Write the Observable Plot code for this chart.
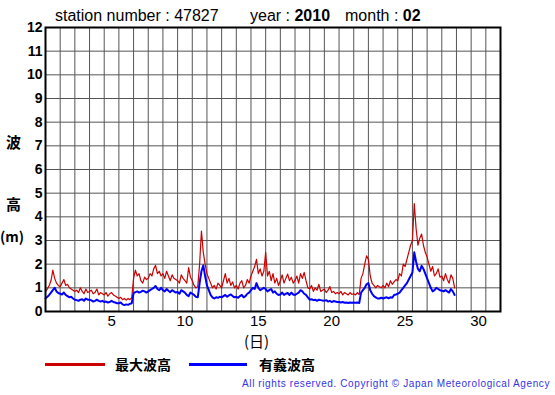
<!DOCTYPE html>
<html>
<head>
<meta charset="utf-8">
<script src="https://cdn.jsdelivr.net/npm/d3@7"></script>
<script src="https://cdn.jsdelivr.net/npm/@observablehq/plot@0.6"></script>
<style>
  html, body { margin: 0; padding: 0; background: #fff; }
  #wrap { position: relative; width: 555px; height: 395px; overflow: hidden; font-family: "Liberation Sans", Arial, sans-serif; }
  #chart { position: absolute; left: 0; top: 0; }
  .abs { position: absolute; white-space: nowrap; line-height: 18px; }
  .ttl { font-size: 16px; color: #000; }
  .cjk { font-family: "Noto Sans CJK JP", sans-serif; font-weight: bold; font-size: 14px; color: #000; }
  .leg { position: absolute; height: 3px; }
  .copy { font-size: 10px; letter-spacing: 0.6px; color: #3434e0; }
</style>
</head>
<body>
<div id="wrap">
  <div id="chart"></div>
  <div class="abs ttl" style="left:55px;top:7px">station number : 47827</div>
  <div class="abs ttl" style="left:250px;top:7px">year : <b>2010</b></div>
  <div class="abs ttl" style="left:345px;top:7px">month : <b>02</b></div>
  <div class="abs cjk" style="left:6px;top:133px;font-size:15px">波</div>
  <div class="abs cjk" style="left:6px;top:195px;font-size:15px">高</div>
  <div class="abs cjk" style="left:0px;top:227px;font-size:14px">(m)</div>
  <div class="abs cjk" style="left:244px;top:333px;font-size:15px;line-height:15px;font-weight:normal">(日)</div>
  <div class="leg" style="left:45px;top:363px;width:60px;background:#cc0000"></div>
  <div class="abs cjk" style="left:115px;top:355px">最大波高</div>
  <div class="leg" style="left:189px;top:363px;width:58px;background:#0000ff"></div>
  <div class="abs cjk" style="left:259px;top:355px">有義波高</div>
  <div class="abs copy" style="right:5px;top:375px">All rights reserved. Copyright © Japan Meteorological Agency</div>
</div>
<script>
// Axis ticks
const yTicks = [0, 1, 2, 3, 4, 5, 6, 7, 8, 9, 10, 11, 12];
const dayTicks = [5, 10, 15, 20, 25, 30];
const dayGrid = d3.range(0, 32);

// 3-hourly significant wave height (m), days 1..28 of Feb 2010
const sigWave = [
  0.55,0.62,0.70,0.80,0.90,1.00,0.85,0.78,
  0.75,0.72,0.80,0.70,0.65,0.60,0.62,0.55,
  0.50,0.48,0.45,0.50,0.52,0.45,0.55,0.50,
  0.50,0.47,0.42,0.45,0.50,0.45,0.42,0.45,
  0.40,0.42,0.38,0.40,0.45,0.40,0.38,0.35,
  0.35,0.38,0.30,0.27,0.30,0.28,0.32,0.35,
  0.78,0.82,0.85,0.80,0.83,0.88,0.85,0.80,
  0.85,0.90,0.95,1.00,1.08,0.95,0.90,1.00,
  0.90,0.85,0.95,0.88,0.82,0.90,0.85,0.80,
  0.82,0.75,0.90,0.85,0.80,0.70,0.65,0.80,
  0.75,0.70,0.62,0.60,1.20,1.70,1.95,1.50,
  1.10,0.90,0.70,0.60,0.55,0.60,0.58,0.62,
  0.60,0.65,0.70,0.62,0.68,0.72,0.65,0.60,
  0.62,0.58,0.65,0.70,0.60,0.65,0.75,0.80,
  0.90,1.00,0.95,1.20,1.00,0.90,0.95,1.00,
  0.95,0.85,0.90,0.95,0.80,0.85,0.75,0.70,
  0.72,0.80,0.70,0.75,0.78,0.70,0.80,0.72,
  0.70,0.75,0.80,0.90,0.85,0.75,0.70,0.60,
  0.50,0.52,0.48,0.50,0.45,0.50,0.48,0.46,
  0.45,0.48,0.42,0.45,0.40,0.44,0.42,0.40,
  0.40,0.38,0.40,0.37,0.38,0.36,0.38,0.37,
  0.38,0.37,0.38,0.36,0.80,0.90,1.00,1.15,
  1.20,0.90,0.75,0.65,0.60,0.55,0.55,0.58,
  0.55,0.58,0.60,0.56,0.60,0.58,0.70,0.72,
  0.75,0.80,0.90,1.00,1.10,1.20,1.35,1.50,
  1.65,2.50,2.10,1.80,1.70,1.93,1.80,1.60,
  1.40,1.20,1.00,0.85,0.90,1.00,0.95,0.90,
  0.88,0.85,0.90,0.85,0.80,0.95,0.85,0.70
];

// 3-hourly maximum wave height (m)
const maxWave = [
  0.85,0.95,1.10,1.30,1.75,1.40,1.20,1.10,
  1.05,1.20,1.35,1.10,1.15,1.00,0.95,0.90,
  0.85,0.90,0.80,1.00,0.85,0.75,0.95,0.80,
  0.85,0.90,0.75,0.80,0.95,0.70,0.80,0.75,
  0.70,0.80,0.65,0.75,0.80,0.70,0.65,0.60,
  0.55,0.60,0.50,0.55,0.48,0.55,0.50,0.58,
  1.40,1.75,1.50,1.60,1.30,1.20,1.45,1.35,
  1.40,1.60,1.50,1.80,1.95,1.60,1.70,1.50,
  1.60,1.40,1.70,1.50,1.30,1.55,1.40,1.35,
  1.30,1.20,1.55,1.40,1.30,1.20,1.85,1.45,
  1.30,1.10,1.00,1.05,2.00,3.40,2.50,2.00,
  1.60,1.40,1.20,1.00,1.10,0.95,1.20,1.10,
  1.00,1.30,1.60,1.20,1.40,1.10,1.25,1.00,
  1.10,0.95,1.20,1.30,1.00,1.10,1.35,1.20,
  1.50,1.70,1.90,2.20,1.60,1.80,1.50,1.70,
  2.50,1.50,1.70,1.30,1.60,1.20,1.40,1.10,
  1.30,1.55,1.20,1.40,1.58,1.30,1.45,1.20,
  1.30,1.50,1.20,1.60,1.40,1.65,1.30,1.00,
  0.95,1.10,0.85,1.00,0.90,1.15,0.85,0.90,
  0.95,0.80,0.90,1.05,0.80,0.85,0.75,0.80,
  0.75,0.85,0.70,0.80,0.75,0.70,0.80,0.72,
  0.75,0.70,0.80,0.72,1.40,1.60,2.00,2.35,
  2.20,1.50,1.20,1.10,1.00,1.10,1.05,1.00,
  1.10,1.00,1.20,1.05,1.30,1.15,1.25,1.35,
  1.30,1.60,1.50,2.00,1.90,2.20,2.50,2.80,
  3.00,4.56,3.50,2.80,3.10,3.27,2.80,2.50,
  2.30,2.00,1.70,1.90,1.50,1.60,1.80,1.45,
  1.50,1.30,1.60,1.35,1.20,1.55,1.40,1.00
];

const samplesPerDay = 8;
const table = sigWave.map((v, i) => ({ t: i / samplesPerDay, sig: v, max: maxWave[i] }));

const chart = Plot.plot({
  width: 555,
  height: 345,
  marginTop: 27,
  marginLeft: 45,
  marginRight: 55,
  marginBottom: 34,
  style: { fontFamily: "Liberation Sans, Arial, sans-serif", background: "transparent", overflow: "visible", color: "#000" },
  x: { domain: [0, 31] },
  y: { domain: [0, 12] },
  marks: [
    Plot.gridX(dayGrid, { stroke: "#555", strokeOpacity: 1, strokeWidth: 1 }),
    Plot.gridY(yTicks, { stroke: "#555", strokeOpacity: 1, strokeWidth: 1 }),
    Plot.line(table, { x: "t", y: "max", stroke: "#cc0000", strokeWidth: 1.2 }),
    Plot.line(table, { x: "t", y: "sig", stroke: "#0000ff", strokeWidth: 2 }),
    Plot.frame({ stroke: "#000", strokeWidth: 2 }),
    Plot.axisY(yTicks, { tickSize: 0, tickPadding: 3, fontSize: 14, fontWeight: "bold", label: null }),
    Plot.axisX(dayTicks.map(d => d - 0.5), { tickSize: 0, tickPadding: 4, fontSize: 15, label: null, tickFormat: d => String(d + 0.5) })
  ]
});
document.getElementById("chart").appendChild(chart);
</script>
</body>
</html>
